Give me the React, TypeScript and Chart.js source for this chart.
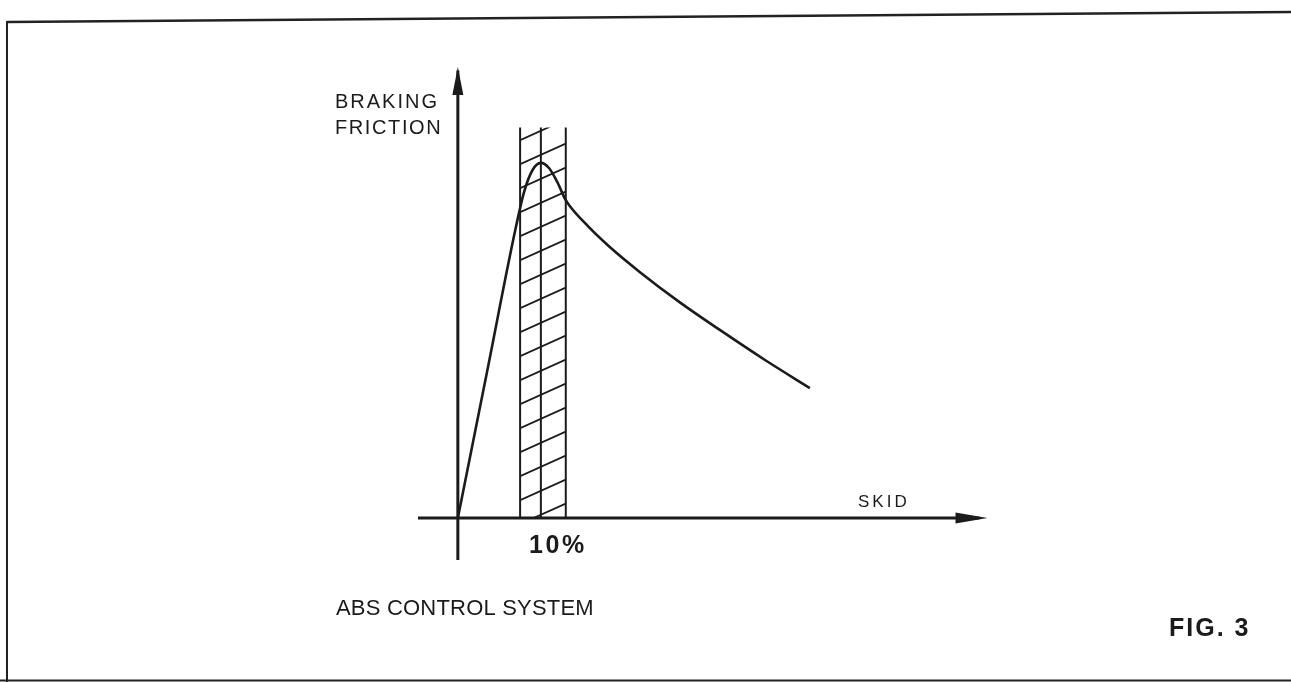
import React, { useEffect, useRef } from "react";
import { Chart, registerables } from "chart.js";

Chart.register(...registerables);

// Skid (%) and braking friction (relative, peak = 100)
const skidPct = [0, 3.5, 7, 8, 9, 10, 11, 12, 13, 15.3, 18.3, 21.9, 26.7, 31.6, 37.0, 42.4];
const friction = [0, 41, 82, 92, 98, 100, 98.5, 94.5, 89.5, 83.1, 76.3, 69.3, 60.8, 52.9, 44.5, 36.6];

// ABS control band (skid %), its centre and its height
const bandEdges = [7.5, 10, 13];
const bandTop = 110;

// Axis extents
const xAxisRange = [-4.8, 63.8];
const yAxisRange = [-11.8, 127];

// Labels
const yLabel = ["BRAKING", "FRICTION"];
const xLabel = "SKID";
const bandLabel = "10%";
const caption = "ABS CONTROL SYSTEM";
const figLabel = "FIG. 3";

const INK = "#1b1b1b";
const FONT = "'Liberation Sans', Arial, Helvetica, sans-serif";

const framePlugin = {
  id: "frame",
  beforeDraw(chart: any) {
    const { ctx, width, height } = chart;
    ctx.save();
    ctx.fillStyle = "#ffffff";
    ctx.fillRect(0, 0, width, height);
    ctx.strokeStyle = "#222";
    ctx.lineWidth = 2.5;
    ctx.beginPath();
    ctx.moveTo(7, 22);
    ctx.lineTo(width, 12);
    ctx.stroke();
    ctx.lineWidth = 2;
    ctx.beginPath();
    ctx.moveTo(7, 21);
    ctx.lineTo(7, height);
    ctx.stroke();
    ctx.beginPath();
    ctx.moveTo(0, height - 1.5);
    ctx.lineTo(width, height - 1.5);
    ctx.stroke();
    ctx.restore();
  },
};

const hatchPlugin = {
  id: "hatch",
  beforeDatasetsDraw(chart: any) {
    const { ctx, scales } = chart;
    const x = scales.x;
    const y = scales.y;
    const l = x.getPixelForValue(bandEdges[0]);
    const r = x.getPixelForValue(bandEdges[2]);
    const t = y.getPixelForValue(bandTop);
    const b = y.getPixelForValue(0);
    ctx.save();
    ctx.beginPath();
    ctx.rect(l, t, r - l, b - t);
    ctx.clip();
    ctx.beginPath();
    ctx.strokeStyle = INK;
    ctx.lineWidth = 1.8;
    const w = r - l;
    const rise = w * 0.45;
    const gap = 24;
    for (let yy = b + 6; yy > t - rise - gap; yy -= gap) {
      ctx.moveTo(l, yy);
      ctx.lineTo(r, yy - rise);
    }
    ctx.stroke();
    ctx.restore();
  },
};

const arrowTextPlugin = {
  id: "arrowText",
  afterDatasetsDraw(chart: any) {
    const { ctx, scales } = chart;
    const x = scales.x;
    const y = scales.y;
    const x0 = x.getPixelForValue(0);
    const y0 = y.getPixelForValue(0);
    ctx.save();
    ctx.fillStyle = INK;
    // x arrow
    const xt = x.getPixelForValue(xAxisRange[1]);
    ctx.beginPath();
    ctx.moveTo(xt, y0);
    ctx.lineTo(xt - 32, y0 - 5.5);
    ctx.lineTo(xt - 32, y0 + 5.5);
    ctx.closePath();
    ctx.fill();
    // y arrow
    const yt = y.getPixelForValue(yAxisRange[1]);
    ctx.beginPath();
    ctx.moveTo(x0, yt);
    ctx.lineTo(x0 - 5.5, yt + 28);
    ctx.lineTo(x0 + 5.5, yt + 28);
    ctx.closePath();
    ctx.fill();

    // texts
    ctx.textBaseline = "alphabetic";
    ctx.textAlign = "left";
    ctx.font = `20px ${FONT}`;
    (ctx as any).letterSpacing = "2px";
    ctx.fillText(yLabel[0], 335, 108);
    (ctx as any).letterSpacing = "1.6px";
    ctx.fillText(yLabel[1], 335, 134);

    ctx.font = `17px ${FONT}`;
    (ctx as any).letterSpacing = "3px";
    ctx.fillText(xLabel, 858, 507);

    ctx.font = `bold 25px ${FONT}`;
    (ctx as any).letterSpacing = "2.5px";
    ctx.textAlign = "center";
    ctx.fillText(bandLabel, x.getPixelForValue(bandEdges[1]) + 17, 553);

    ctx.textAlign = "left";
    ctx.font = `22px ${FONT}`;
    (ctx as any).letterSpacing = "0.2px";
    ctx.fillText(caption, 336, 615);

    ctx.font = `bold 25px ${FONT}`;
    (ctx as any).letterSpacing = "2px";
    ctx.fillText(figLabel, 1169, 636);
    ctx.restore();
  },
};

export default function App() {
  const ref = useRef<HTMLCanvasElement | null>(null);

  useEffect(() => {
    if (!ref.current) return;
    const curve = skidPct.map((s, i) => ({ x: s, y: friction[i] }));
    const lineDs = (data: any[], width: number, extra: any = {}) => ({
      data,
      borderColor: INK,
      borderWidth: width,
      pointRadius: 0,
      showLine: true,
      fill: false,
      clip: false,
      ...extra,
    });
    const chart = new Chart(ref.current, {
      type: "scatter",
      data: {
        datasets: [
          lineDs(
            [
              { x: xAxisRange[0], y: 0 },
              { x: xAxisRange[1] - 1, y: 0 },
            ],
            3
          ),
          lineDs(
            [
              { x: 0, y: yAxisRange[0] },
              { x: 0, y: yAxisRange[1] - 1 },
            ],
            3
          ),
          ...bandEdges.map((e) =>
            lineDs(
              [
                { x: e, y: 0 },
                { x: e, y: bandTop },
              ],
              2
            )
          ),
          lineDs(curve, 2.6, { cubicInterpolationMode: "monotone" }),
        ],
      },
      options: {
        animation: false,
        responsive: false,
        devicePixelRatio: 1,
        events: [],
        layout: { padding: { left: 418, right: 303.5, top: 67, bottom: 122 } },
        scales: {
          x: { type: "linear", min: xAxisRange[0], max: xAxisRange[1], display: false },
          y: { type: "linear", min: yAxisRange[0], max: yAxisRange[1], display: false },
        },
        plugins: { legend: { display: false }, tooltip: { enabled: false } },
      },
      plugins: [framePlugin, hatchPlugin, arrowTextPlugin],
    });
    return () => chart.destroy();
  }, []);

  return (
    <div style={{ position: "absolute", left: 0, top: 0, width: 1291, height: 682, background: "#fff" }}>
      <canvas ref={ref} width={1291} height={682} style={{ width: 1291, height: 682, display: "block" }} />
    </div>
  );
}
